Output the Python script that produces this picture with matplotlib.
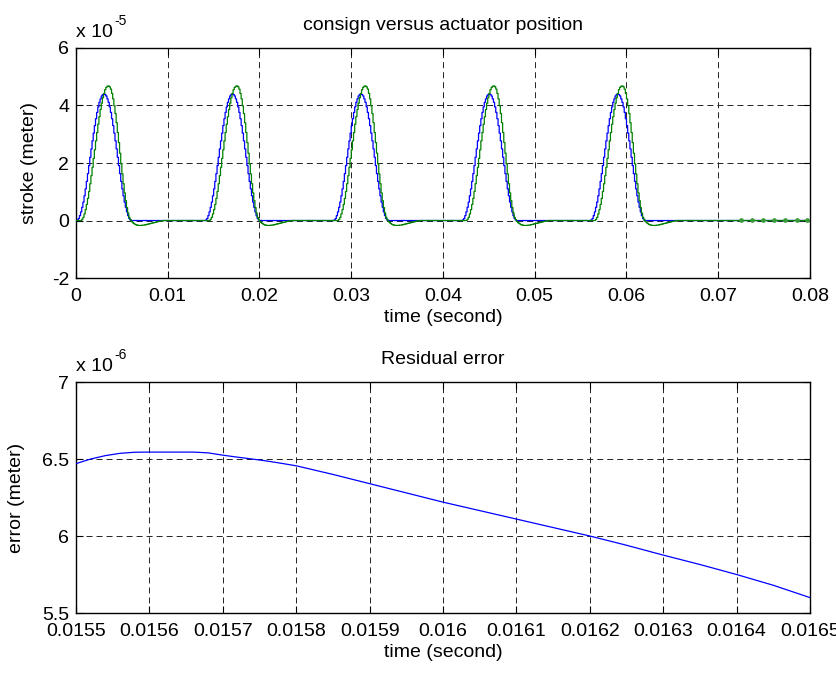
import matplotlib

matplotlib.use("Agg")
import matplotlib.pyplot as plt
import numpy as np
from matplotlib.ticker import FuncFormatter, MultipleLocator

# --- data ----------------------------------------------------------------
SAMPLE_DT = 0.000125         # hold period of the staircase signals (s)
T_END = 0.08

pulse_starts = [0.0, 0.014, 0.028, 0.042, 0.056]

# one consign pulse, units of 1e-5 m, one value per sample
consign_pulse = [0.00, 0.02, 0.07, 0.17, 0.30, 0.46, 0.64, 0.86, 1.10, 1.36,
                 1.63, 1.91, 2.20, 2.49, 2.77, 3.04, 3.30, 3.54, 3.76, 3.95,
                 4.11, 4.23, 4.33, 4.38, 4.40, 4.38, 4.33, 4.23, 4.11, 3.95,
                 3.76, 3.54, 3.30, 3.04, 2.77, 2.49, 2.20, 1.91, 1.63, 1.36,
                 1.10, 0.86, 0.64, 0.46, 0.30, 0.17, 0.07, 0.02, 0.00]

# actuator answer to one pulse: delayed, overshoot, then small undershoot
actuator_pulse = [0.00, 0.00, 0.00, 0.00, 0.00, 0.04, 0.11, 0.23, 0.38, 0.56,
                  0.77, 1.01, 1.28, 1.56, 1.85, 2.16, 2.46, 2.77, 3.06, 3.35,
                  3.61, 3.86, 4.08, 4.27, 4.42, 4.55, 4.63, 4.67, 4.68, 4.65,
                  4.57, 4.42, 4.23, 3.99, 3.72, 3.40, 3.06, 2.71, 2.34, 1.97,
                  1.62, 1.28, 0.96, 0.69, 0.45, 0.26, 0.11, 0.03, -0.03, -0.07,
                  -0.10, -0.13, -0.15, -0.16, -0.17, -0.17, -0.17, -0.17, -0.16,
                  -0.16, -0.15, -0.14, -0.13, -0.12, -0.11, -0.10, -0.09, -0.08,
                  -0.07, -0.06, -0.05, -0.04, -0.03, -0.02, -0.02, -0.01, 0.00]

# tiny bumps of the actuator signal after the last pulse
tail_bump_t = [0.07245, 0.07365, 0.07485, 0.07605, 0.07728, 0.07856, 0.07971]
tail_bump_v = [0.03, 0.03, 0.03, 0.03, 0.03, 0.03, 0.03]

# residual error, zoom on 0.0155 .. 0.0165 s, units of 1e-6 m
err_t = [0.01550, 0.01552, 0.01554, 0.01556, 0.01558, 0.01560, 0.01562,
         0.01564, 0.01566, 0.01568, 0.01570, 0.01572, 0.01574, 0.01576,
         0.01578, 0.01580, 0.01585, 0.01590, 0.01595, 0.01600, 0.01605,
         0.01610, 0.01615, 0.01620, 0.01625, 0.01630, 0.01635, 0.01640,
         0.01645, 0.01650]
err_v = [6.470, 6.500, 6.522, 6.537, 6.544, 6.545, 6.545, 6.545, 6.545,
         6.540, 6.525, 6.512, 6.500, 6.487, 6.472, 6.456, 6.400, 6.340,
         6.280, 6.220, 6.165, 6.110, 6.055, 6.000, 5.940, 5.876, 5.815,
         5.750, 5.680, 5.600]

FS = 14


def build_signal(pulse):
    n = int(round(T_END / SAMPLE_DT)) + 1
    t = np.arange(n) * SAMPLE_DT
    y = np.zeros(n)
    for start in pulse_starts:
        i0 = int(round(start / SAMPLE_DT))
        seg = np.asarray(pulse)[: n - i0]
        y[i0:i0 + len(seg)] += seg
    return t, y * 1e-5


def matlab_axes(ax):
    ax.tick_params(direction="in", length=5, width=0.8, top=True, right=True,
                   labelsize=FS)
    ax.tick_params(axis="x", pad=7)
    ax.tick_params(axis="y", pad=5)
    for sp in ax.spines.values():
        sp.set_linewidth(1.0)
    ax.grid(True, color="#222222", linewidth=0.7, linestyle=(0, (6.2, 4.1)))


def exponent_label(ax, power):
    base = ax.text(0.0, 1.03, "x 10", transform=ax.transAxes, ha="left",
                   va="bottom", fontsize=FS)
    ax.annotate(power, xy=(1, 1), xycoords=base, xytext=(1, -3),
                textcoords="offset points", ha="left", va="bottom", fontsize=10)


def main():
    plt.rcParams.update({
        "font.family": ["Liberation Sans", "DejaVu Sans"],
        "font.size": FS,
    })

    fig = plt.figure(figsize=(8.36, 6.74), dpi=100)
    ax1 = fig.add_axes([0.0909, 0.5875, 0.878, 0.3413])
    ax2 = fig.add_axes([0.0909, 0.0905, 0.878, 0.3427])

    # top: consign vs actuator
    t, consign = build_signal(consign_pulse)
    _, actuator = build_signal(actuator_pulse)
    ax1.plot(t, consign, color="blue", linewidth=0.9, drawstyle="steps-post", zorder=3)
    ax1.plot(t, actuator, color="#008000", linewidth=0.9, drawstyle="steps-post", zorder=4)
    ax1.plot(tail_bump_t, np.asarray(tail_bump_v) * 1e-5, "o", color="#3a9a3a",
             markersize=3.4, markeredgewidth=0, zorder=5)
    ax1.set_xlim(0, 0.08)
    ax1.set_ylim(-2e-5, 6e-5)
    ax1.xaxis.set_major_locator(MultipleLocator(0.01))
    ax1.yaxis.set_major_locator(MultipleLocator(2e-5))
    ax1.xaxis.set_major_formatter(FuncFormatter(lambda v, p: f"{v:g}"))
    ax1.yaxis.set_major_formatter(FuncFormatter(lambda v, p: f"{round(v / 1e-5):g}"))
    matlab_axes(ax1)
    ax1.set_title("consign versus actuator position", fontsize=FS, pad=13)
    ax1.set_xlabel("time (second)", labelpad=3)
    ax1.set_ylabel("stroke (meter)", labelpad=10)
    exponent_label(ax1, "-5")

    # bottom: residual error
    ax2.plot(err_t, np.asarray(err_v) * 1e-6, color="blue", linewidth=0.9, zorder=3)
    ax2.set_xlim(0.0155, 0.0165)
    ax2.set_ylim(5.5e-6, 7e-6)
    ax2.set_xticks(np.round(np.linspace(0.0155, 0.0165, 11), 4))
    ax2.yaxis.set_major_locator(MultipleLocator(0.5e-6))
    ax2.xaxis.set_major_formatter(FuncFormatter(lambda v, p: f"{v:.4f}".rstrip("0")))
    ax2.yaxis.set_major_formatter(FuncFormatter(lambda v, p: f"{round(v / 1e-6, 1):g}"))
    matlab_axes(ax2)
    ax2.set_title("Residual error", fontsize=FS, pad=13)
    ax2.set_xlabel("time (second)", labelpad=3)
    ax2.set_ylabel("error (meter)", labelpad=12)
    exponent_label(ax2, "-6")

    fig.savefig("out.png", dpi=100)
    plt.close(fig)


if __name__ == "__main__":
    main()
